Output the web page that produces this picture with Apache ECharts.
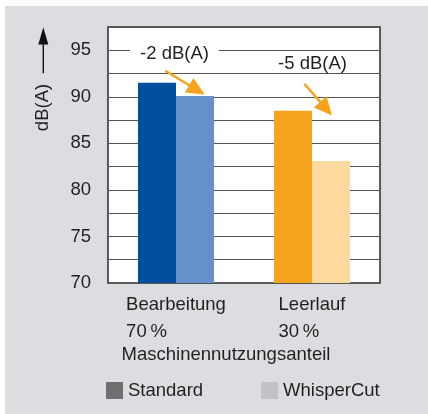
<!DOCTYPE html>
<html><head><meta charset="utf-8">
<script src="https://cdn.jsdelivr.net/npm/echarts@6/dist/echarts.min.js"></script>
<style>
html,body{margin:0;padding:0;background:#fff;width:428px;height:414px;overflow:hidden}
#c{position:absolute;left:5px;top:6px;width:423px;height:408px}
</style>
</head><body><div id="c"></div>
<script>
// ---- data ----
const categories = ['Bearbeitung', 'Leerlauf'];
const shares = ['70\u2009%', '30\u2009%'];
const xAxisTitle = 'Maschinennutzungsanteil';
const yAxisTitle = 'dB(A)';
const seriesNames = ['Standard', 'WhisperCut'];
const standardValues = [91.5, 88.5];
const whisperValues = [90.1, 83.1];
const yTicks = [70, 75, 80, 85, 90, 95];
const reductionLabels = ['-2 dB(A)', '-5 dB(A)'];
const reductionLabelY = [94.6, 93.5];
const arrowFromY = [92.8, 91.4];
const arrowToY = [90.25, 88.0];

// ---- styles ----
const FONT = '"Liberation Sans", Arial, Helvetica, sans-serif';
const FS = 18.5;
const TXT = '#231f20';
const standardColors = ['#00509e', '#f6a41d'];
const whisperColors = ['#6590c9', '#fdd9a0'];
const legendColors = ['#6f6f72', '#c1c2c6'];
const ARROW = '#f6a41d';

const chart = echarts.init(document.getElementById('c'), null, {renderer: 'canvas'});

const option = {
  animation: false,
  backgroundColor: '#dcdde0',
  textStyle: {fontFamily: FONT},
  grid: {
    left: 103, top: 21, right: 48, bottom: 131,
    show: true, backgroundColor: '#ffffff', borderColor: '#2b2b2b', borderWidth: 1.5,
    containLabel: false
  },
  legend: {
    data: seriesNames, left: 101, top: 375, padding: 0,
    itemWidth: 17, itemHeight: 17, itemGap: 58, icon: 'rect',
    textStyle: {fontSize: FS, color: TXT, fontFamily: FONT}
  },
  xAxis: {
    type: 'category', data: categories,
    axisLine: {show: false}, axisTick: {show: false},
    axisLabel: {
      margin: 8, align: 'center',
      formatter: (v, i) => '{n|' + v + '}\n{n|' + shares[i] + '}',
      rich: {n: {align: 'left', fontSize: FS, lineHeight: 27, color: TXT, fontFamily: FONT}}
    },
    name: xAxisTitle, nameLocation: 'middle', nameGap: 62,
    nameTextStyle: {fontSize: FS, color: TXT, fontFamily: FONT, padding: [0, 36, 0, 0]}
  },
  yAxis: {
    type: 'value', min: 70, max: 97.5, interval: 2.5,
    axisLine: {show: false}, axisTick: {show: false},
    splitLine: {lineStyle: {color: '#555', width: 1}},
    axisLabel: {
      margin: 17, fontSize: FS, color: TXT, fontFamily: FONT,
      formatter: v => (yTicks.indexOf(v) >= 0 ? String(v) : '')
    }
  },
  series: [
    {
      name: seriesNames[0], type: 'bar', barWidth: 38, barGap: '0%',
      itemStyle: {color: legendColors[0]},
      data: standardValues.map((v, i) => ({value: v, itemStyle: {color: standardColors[i]}}))
    },
    {
      name: seriesNames[1], type: 'bar', barWidth: 38, barGap: '0%',
      itemStyle: {color: legendColors[1]},
      data: whisperValues.map((v, i) => ({value: v, itemStyle: {color: whisperColors[i]}}))
    }
  ]
};
chart.setOption(option);

// ---- annotations ----
const labelDx = [-1.5, 0.5];
const arrowDx0 = [-10.7, -7.7];
const arrowDx1 = [28.5, 20];
const g = [];

g.push({type: 'text', x: 38, y: 101.5, rotation: Math.PI / 2, z: 50,
  style: {text: yAxisTitle, fontSize: FS, fontFamily: FONT, fill: TXT, align: 'center', verticalAlign: 'middle'}});
g.push({type: 'line', z: 50, shape: {x1: 38.3, y1: 67.3, x2: 38.3, y2: 36},
  style: {stroke: '#111', lineWidth: 1.4}});
g.push({type: 'polygon', z: 50, shape: {points: [[38.3, 21.3], [33.3, 38.5], [43.3, 38.5]]},
  style: {fill: '#111'}});

function arrow(x1, y1, x2, y2) {
  const dx = x2 - x1, dy = y2 - y1, L = Math.hypot(dx, dy);
  const ux = dx / L, uy = dy / L, px = -uy, py = ux;
  const hl = 18, hw = 8.5;
  const bx = x2 - ux * hl, by = y2 - uy * hl;
  g.push({type: 'line', z: 60, shape: {x1: x1, y1: y1, x2: bx + ux * 2, y2: by + uy * 2},
    style: {stroke: ARROW, lineWidth: 2.5}});
  g.push({type: 'polygon', z: 60,
    shape: {points: [[x2, y2], [bx + px * hw, by + py * hw], [bx - px * hw, by - py * hw]]},
    style: {fill: ARROW}});
}

categories.forEach((c, i) => {
  const pl = chart.convertToPixel({gridIndex: 0}, [i, reductionLabelY[i]]);
  const p0 = chart.convertToPixel({gridIndex: 0}, [i, arrowFromY[i]]);
  const p1 = chart.convertToPixel({gridIndex: 0}, [i, arrowToY[i]]);
  g.push({type: 'text', x: pl[0] + labelDx[i], y: pl[1], z: 55,
    style: {text: reductionLabels[i], fontSize: FS, fontFamily: FONT, fill: TXT,
      align: 'center', verticalAlign: 'middle',
      backgroundColor: i === 0 ? '#ffffff' : 'transparent', padding: [1, 10]}});
  arrow(p0[0] + arrowDx0[i], p0[1], p1[0] + arrowDx1[i], p1[1]);
});

chart.setOption({graphic: g});
</script>
</body></html>
